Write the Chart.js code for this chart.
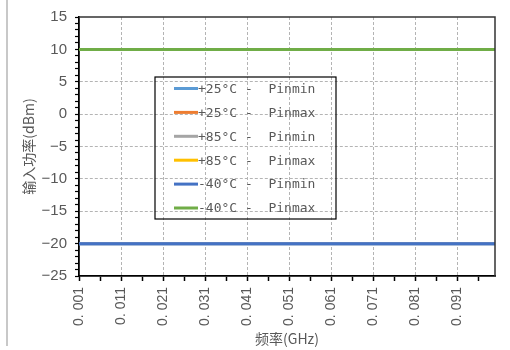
<!DOCTYPE html>
<html>
<head>
<meta charset="utf-8">
<script src="https://cdn.jsdelivr.net/npm/chart.js@4/dist/chart.umd.min.js"></script>
<style>
  html, body { margin: 0; padding: 0; background: #fff; }
  #wrap { position: relative; width: 510px; height: 350px; }
  #edge { position: absolute; left: 6px; top: 0; width: 2px; height: 346px; background: #c8c8c8; }
  canvas { position: absolute; left: 0; top: 0; }
</style>
</head>
<body>
<div id="wrap">
  <canvas id="chart" width="510" height="350"></canvas>
  <div id="edge"></div>
</div>
<script>
// Frequency sweep points (GHz)
const freqs = [0.001, 0.011, 0.021, 0.031, 0.041, 0.051, 0.061, 0.071, 0.081, 0.091, 0.1];

// Input power limits (dBm) per temperature
const pinMin25  = [-20, -20, -20, -20, -20, -20, -20, -20, -20, -20, -20];
const pinMax25  = [10, 10, 10, 10, 10, 10, 10, 10, 10, 10, 10];
const pinMin85  = [-20, -20, -20, -20, -20, -20, -20, -20, -20, -20, -20];
const pinMax85  = [10, 10, 10, 10, 10, 10, 10, 10, 10, 10, 10];
const pinMinM40 = [-20, -20, -20, -20, -20, -20, -20, -20, -20, -20, -20];
const pinMaxM40 = [10, 10, 10, 10, 10, 10, 10, 10, 10, 10, 10];

const seriesNames = [
  '+25°C -  Pinmin', '+25°C -  Pinmax',
  '+85°C -  Pinmin', '+85°C -  Pinmax',
  '-40°C -  Pinmin', '-40°C -  Pinmax'
];
const seriesColors = ['#5B9BD5', '#ED7D31', '#A5A5A5', '#FFC000', '#4472C4', '#70AD47'];

// Axis ticks: labelled majors and unlabelled minors
const xMajorTicks = [0.001, 0.011, 0.021, 0.031, 0.041, 0.051, 0.061, 0.071, 0.081, 0.091];
const xMinorTicks = [0.006, 0.016, 0.026, 0.036, 0.046, 0.056, 0.066, 0.076, 0.086, 0.096];
const xTickLabels = ['0. 001', '0. 011', '0. 021', '0. 031', '0. 041', '0. 051', '0. 061', '0. 071', '0. 081', '0. 091'];
const yMajorTicks = [15, 10, 5, 0, -5, -10, -15, -20, -25];
const yTickLabels = ['15', '10', '5', '0', '\u22125', '\u221210', '\u221215', '\u221220', '\u221225'];
const yMinorStep = 1;

const allSeries = [pinMin25, pinMax25, pinMin85, pinMax85, pinMinM40, pinMaxM40];

const textGray = '#595959';
Chart.defaults.font.family = "'Liberation Sans', Arial, sans-serif";
Chart.defaults.color = textGray;

const near = (a, b) => Math.abs(a - b) < 1e-6;
const xLabelFor = v => { const i = xMajorTicks.findIndex(t => near(t, v)); return i < 0 ? '' : xTickLabels[i]; };
const yLabelFor = v => { const i = yMajorTicks.findIndex(t => near(t, v)); return i < 0 ? '' : yTickLabels[i]; };

// Frame around the plot plus an in-plot legend box
const framePlugin = {
  id: 'frameAndLegend',
  afterDraw(chart) {
    const { ctx, chartArea: a } = chart;
    ctx.save();
    ctx.strokeStyle = '#333';
    ctx.lineWidth = 1.5;
    ctx.beginPath();
    ctx.moveTo(a.left, a.top);
    ctx.lineTo(a.right, a.top);
    ctx.lineTo(a.right, a.bottom);
    ctx.stroke();

    const bx = a.left + 76, by = a.top + 60, bw = 181, bh = 142;
    ctx.strokeStyle = '#000';
    ctx.lineWidth = 1.2;
    ctx.strokeRect(bx, by, bw, bh);

    ctx.font = "13px 'DejaVu Sans Mono', monospace";
    ctx.textBaseline = 'middle';
    ctx.textAlign = 'left';
    seriesNames.forEach((name, i) => {
      const cy = by + 11.5 + i * 23.9;
      ctx.strokeStyle = seriesColors[i];
      ctx.lineWidth = 3;
      ctx.beginPath();
      ctx.moveTo(bx + 19, cy);
      ctx.lineTo(bx + 43, cy);
      ctx.stroke();
      ctx.fillStyle = textGray;
      ctx.fillText(name, bx + 43, cy + 1);
    });
    ctx.restore();
  }
};

new Chart(document.getElementById('chart'), {
  type: 'line',
  data: {
    datasets: allSeries.map((vals, i) => ({
      label: seriesNames[i],
      data: freqs.map((f, j) => ({ x: f, y: vals[j] })),
      borderColor: seriesColors[i],
      backgroundColor: seriesColors[i],
      borderWidth: 3,
      pointRadius: 0,
      tension: 0,
      // later series are painted over earlier ones
      order: allSeries.length - i
    }))
  },
  options: {
    responsive: false,
    animation: false,
    devicePixelRatio: 1,
    layout: { padding: { left: 16, right: 15, top: 16, bottom: 0 } },
    plugins: { legend: { display: false }, tooltip: { enabled: false } },
    scales: {
      x: {
        type: 'linear',
        min: 0.001,
        max: 0.1,
        afterBuildTicks(scale) {
          scale.ticks = xMajorTicks.concat(xMinorTicks).sort((p, q) => p - q).map(v => ({ value: v }));
        },
        afterFit(scale) { scale.height = 74; },
        ticks: {
          autoSkip: false,
          minRotation: 90,
          maxRotation: 90,
          padding: 6,
          color: textGray,
          font: { size: 14 },
          callback: v => xLabelFor(v)
        },
        grid: {
          color: ctx => {
            const v = ctx.tick ? ctx.tick.value : null;
            if (v === null || near(v, 0.001) || xLabelFor(v) === '') return 'rgba(0,0,0,0)';
            return '#b4b4b4';
          },
          lineWidth: 1,
          tickColor: '#000',
          tickWidth: 1.5,
          tickLength: 5
        },
        border: { display: true, color: '#000', width: 1.8, dash: [3, 2] },
        title: {
          display: true,
          text: '频率(GHz)',
          color: textGray,
          font: { family: "'Noto Sans CJK SC', sans-serif", size: 14 },
          padding: { top: 0, bottom: 3 }
        }
      },
      y: {
        type: 'linear',
        min: -25,
        max: 15,
        afterBuildTicks(scale) {
          const t = [];
          for (let v = -25; v <= 15; v += yMinorStep) t.push({ value: v });
          scale.ticks = t;
        },
        afterFit(scale) { scale.width = 79 - 16; },
        ticks: {
          autoSkip: false,
          padding: 8,
          color: textGray,
          font: { size: 15 },
          callback: v => yLabelFor(v)
        },
        grid: {
          color: ctx => {
            const v = ctx.tick ? ctx.tick.value : null;
            if (v === null || v === 15 || v === -25 || yLabelFor(v) === '') return 'rgba(0,0,0,0)';
            return '#b4b4b4';
          },
          lineWidth: 1,
          tickColor: '#000',
          tickWidth: 1.2,
          tickLength: 4
        },
        border: { display: true, color: '#000', width: 1.8, dash: [3, 2] },
        title: {
          display: true,
          text: '输入功率(dBm)',
          color: textGray,
          font: { family: "'Noto Sans CJK SC', sans-serif", size: 14 },
          padding: { top: 4, bottom: 0 }
        }
      }
    }
  },
  plugins: [framePlugin]
});
</script>
</body>
</html>
